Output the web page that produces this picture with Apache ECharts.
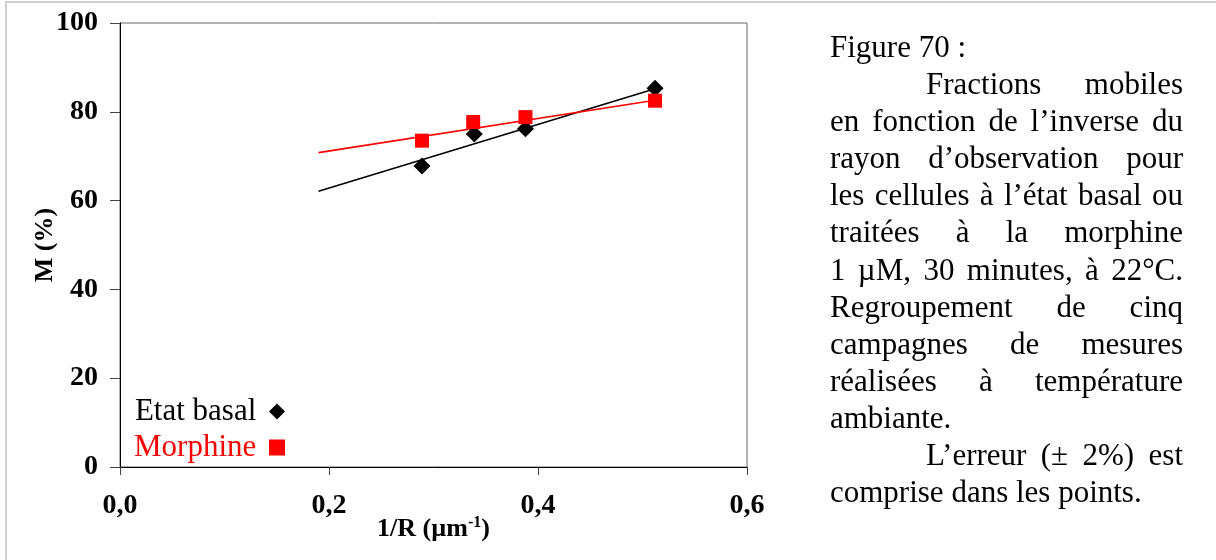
<!DOCTYPE html>
<html>
<head>
<meta charset="utf-8">
<script src="https://cdn.jsdelivr.net/npm/echarts@6/dist/echarts.min.js"></script>
<style>
  html, body { margin: 0; padding: 0; background: #fff; }
  #wrap { position: relative; width: 1216px; height: 560px; overflow: hidden; }
  #frame { position: absolute; left: 5px; top: 1px; width: 1240px; height: 600px;
    border-left: 2px solid #cfcfcf; border-top: 2px solid #cfcfcf; }
  #chart { position: absolute; left: 0; top: 0; width: 1216px; height: 560px; }
  #caption { position: absolute; left: 830px; top: 28px; width: 353px;
    font-family: "Liberation Serif", "Times New Roman", serif; font-size: 31px;
    line-height: 37.1px; color: #000; }
  #caption div { white-space: nowrap; }
  #caption .j { text-align: justify; text-align-last: justify; white-space: normal; }
  #caption .ind { padding-left: 96px; }
</style>
</head>
<body>
<div id="wrap">
  <div id="frame"></div>
  <div id="chart"></div>
  <div id="caption">
    <div>Figure 70 :</div>
    <div class="j ind">Fractions mobiles</div>
    <div class="j">en fonction de l’inverse du</div>
    <div class="j">rayon d’observation pour</div>
    <div class="j">les cellules à l’état basal ou</div>
    <div class="j">traitées à la morphine</div>
    <div class="j">1 µM, 30 minutes, à 22°C.</div>
    <div class="j">Regroupement de cinq</div>
    <div class="j">campagnes de mesures</div>
    <div class="j">réalisées à température</div>
    <div>ambiante.</div>
    <div class="j ind">L’erreur (± 2%) est</div>
    <div>comprise dans les points.</div>
  </div>
</div>
<script>
// values
const basalX = [0.289, 0.339, 0.388, 0.512];
const basalY = [67.8, 75.0, 76.2, 85.3];
const morphineX = [0.289, 0.338, 0.388, 0.512];
const morphineY = [73.5, 77.7, 78.8, 82.5];
// linear fit lines, endpoints
const basalFitX = [0.19, 0.512];
const basalFitY = [62.1, 85.2];
const morphineFitX = [0.19, 0.512];
const morphineFitY = [70.8, 82.6];

const xTicks = [0, 0.2, 0.4, 0.6];
const yTicks = [0, 20, 40, 60, 80, 100];

const serif = '"Liberation Serif", "Times New Roman", serif';
const pairs = (xs, ys) => xs.map((x, i) => [x, ys[i]]);

const chart = echarts.init(document.getElementById("chart"), null, { renderer: "canvas" });

chart.setOption({
  animation: false,
  backgroundColor: "transparent",
  grid: {
    left: 120, right: 469, top: 23, bottom: 93,
    show: true, borderColor: "#666", borderWidth: 1, backgroundColor: "transparent"
  },
  legend: {
    orient: "vertical",
    left: 129,
    top: 391,
    align: "right",
    itemGap: 5,
    itemWidth: 16,
    itemHeight: 16,
    selectedMode: false,
    formatter: (name) => name + " ",
    textStyle: { fontFamily: serif, fontSize: 31 },
    data: [
      { name: "Etat basal", icon: "diamond", textStyle: { color: "#000" } },
      { name: "Morphine", icon: "rect", textStyle: { color: "#ff0000" } }
    ]
  },
  xAxis: {
    type: "value",
    min: xTicks[0],
    max: xTicks[xTicks.length - 1],
    interval: 0.2,
    splitLine: { show: false },
    axisLine: { lineStyle: { color: "#000", width: 1 } },
    axisTick: { show: true, inside: false, length: 8, lineStyle: { color: "#444" } },
    axisLabel: {
      margin: 25,
      fontFamily: serif, fontSize: 28, fontWeight: "bold", color: "#000",
      formatter: (v) => v.toFixed(1).replace(".", ",")
    },
    name: "{a|1/R (µm}{s|-1}{a|)}",
    nameLocation: "middle",
    nameGap: 48,
    nameMoveOverlap: false,
    nameTextStyle: {
      rich: {
        a: { fontFamily: serif, fontSize: 26, fontWeight: "bold", color: "#000", lineHeight: 28 },
        s: { fontFamily: serif, fontSize: 16, fontWeight: "bold", color: "#000", verticalAlign: "top", lineHeight: 16 }
      }
    }
  },
  yAxis: {
    type: "value",
    min: yTicks[0],
    max: yTicks[yTicks.length - 1],
    interval: 20,
    splitLine: { show: false },
    axisLine: { lineStyle: { color: "#000", width: 1 } },
    axisTick: { show: true, inside: false, length: 10, lineStyle: { color: "#444" } },
    axisLabel: {
      margin: 22,
      fontFamily: serif, fontSize: 28, fontWeight: "bold", color: "#000"
    },
    name: "M (%)",
    nameLocation: "middle",
    nameGap: 62,
    nameMoveOverlap: false,
    nameTextStyle: { fontFamily: serif, fontSize: 26, fontWeight: "bold", color: "#000" }
  },
  series: [
    {
      name: "Etat basal fit",
      type: "line",
      data: pairs(basalFitX, basalFitY),
      showSymbol: false,
      lineStyle: { color: "#000", width: 1.6 },
      z: 2
    },
    {
      name: "Morphine fit",
      type: "line",
      data: pairs(morphineFitX, morphineFitY),
      showSymbol: false,
      lineStyle: { color: "#ff0000", width: 1.6 },
      z: 2
    },
    {
      name: "Etat basal",
      type: "scatter",
      symbol: "diamond",
      symbolSize: 17,
      itemStyle: { color: "#000", opacity: 1 },
      data: pairs(basalX, basalY),
      z: 3
    },
    {
      name: "Morphine",
      type: "scatter",
      symbol: "rect",
      symbolSize: 14,
      itemStyle: { color: "#ff0000", opacity: 1 },
      data: pairs(morphineX, morphineY),
      z: 3
    }
  ]
});
</script>
</body>
</html>
